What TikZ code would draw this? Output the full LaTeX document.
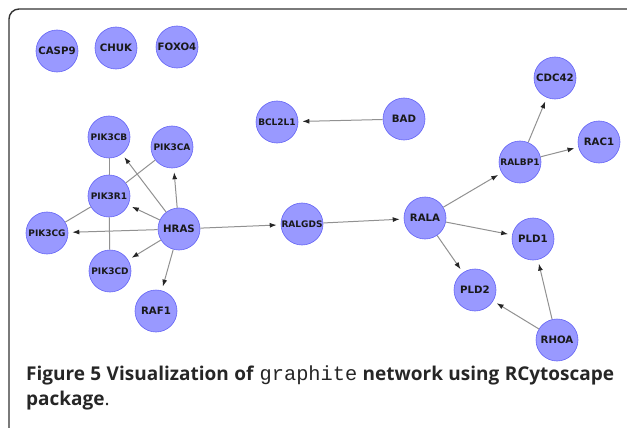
\documentclass[tikz,border=0pt]{standalone}
\usepackage{fontspec}
\setmainfont{Open Sans}
\setmonofont[Scale=1.07]{Liberation Mono}
\newfontfamily\genefont{DejaVu Sans}
\usetikzlibrary{arrows.meta}
\definecolor{genefill}{RGB}{153,153,255}
\definecolor{generim}{RGB}{100,100,245}
\definecolor{edgegray}{RGB}{145,145,145}

\begin{document}
\begin{tikzpicture}[x=1pt,y=-1pt,
    gene/.style={circle,fill=genefill,draw=generim,line width=0.6pt,
      minimum size=42pt,inner sep=0pt,text=black!90,
      font=\genefont\bfseries\fontsize{10.2}{10}\selectfont},
    longgene/.style={gene,font=\genefont\bfseries\fontsize{9}{9}\selectfont},
    link/.style={draw=edgegray,line width=1pt},
    act/.style={link,-{Latex[length=7pt,width=5pt,color=black!85]},shorten >=4pt}]

\useasboundingbox (0,0) rectangle (627,428);

% frame
\draw[line width=1.4pt,black!80,rounded corners=10pt] (9,430) -- (9,9) -- (630,9);

% genes
\node[gene]     (casp9)  at (57,51)   {CASP9};
\node[gene]     (chuk)   at (116,48)  {CHUK};
\node[gene]     (foxo4)  at (177,47)  {FOXO4};
\node[longgene] (bcl2l1) at (277,122) {BCL2L1};
\node[gene]     (bad)    at (404,119) {BAD};
\node[gene]     (cdc42)  at (555,78)  {CDC42};
\node[gene]     (rac1)   at (599,142) {RAC1};
\node[longgene] (ralbp1) at (520,162) {RALBP1};
\node[longgene] (pik3cb) at (109,137) {PIK3CB};
\node[longgene] (pik3ca) at (172,147) {PIK3CA};
\node[longgene] (pik3r1) at (109,196) {PIK3R1};
\node[longgene] (pik3cg) at (47,233)  {PIK3CG};
\node[gene]     (hras)   at (179,229) {HRAS};
\node[longgene] (ralgds) at (302,224) {RALGDS};
\node[gene]     (rala)   at (425,218) {RALA};
\node[gene]     (pld1)   at (533,239) {PLD1};
\node[gene]     (pld2)   at (475,290) {PLD2};
\node[longgene] (pik3cd) at (110,271) {PIK3CD};
\node[gene]     (raf1)   at (156,311) {RAF1};
\node[gene]     (rhoa)   at (557,340) {RHOA};

% PI3K complex
\foreach \p in {pik3cb,pik3ca,pik3cg,pik3cd} {
    \draw[link] (pik3r1) -- (\p);
}

% HRAS targets
\foreach \t in {pik3cb,pik3ca,pik3r1,pik3cg,pik3cd,raf1,ralgds} {
    \draw[act] (hras) -- (\t);
}

\draw[act] (bad) -- (bcl2l1);
\draw[act] (ralgds) -- (rala);
\draw[act] (rala) -- (ralbp1);
\draw[act] (rala) -- (pld1);
\draw[act] (rala) -- (pld2);
\draw[act] (ralbp1) -- (cdc42);
\draw[act] (ralbp1) -- (rac1);
\draw[act] (rhoa) -- (pld1);
\draw[act] (rhoa) -- (pld2);

% caption
\node[anchor=north west,text width=588pt,align=justify,inner sep=0pt,
      font=\fontsize{19}{25}\selectfont,text=black!85] (caption) at (26,366)
    {\textbf{Figure 5 Visualization of} \texttt{graphite} \textbf{network using RCytoscape}\linebreak
     \textbf{package}.};

\end{tikzpicture}
\end{document}
